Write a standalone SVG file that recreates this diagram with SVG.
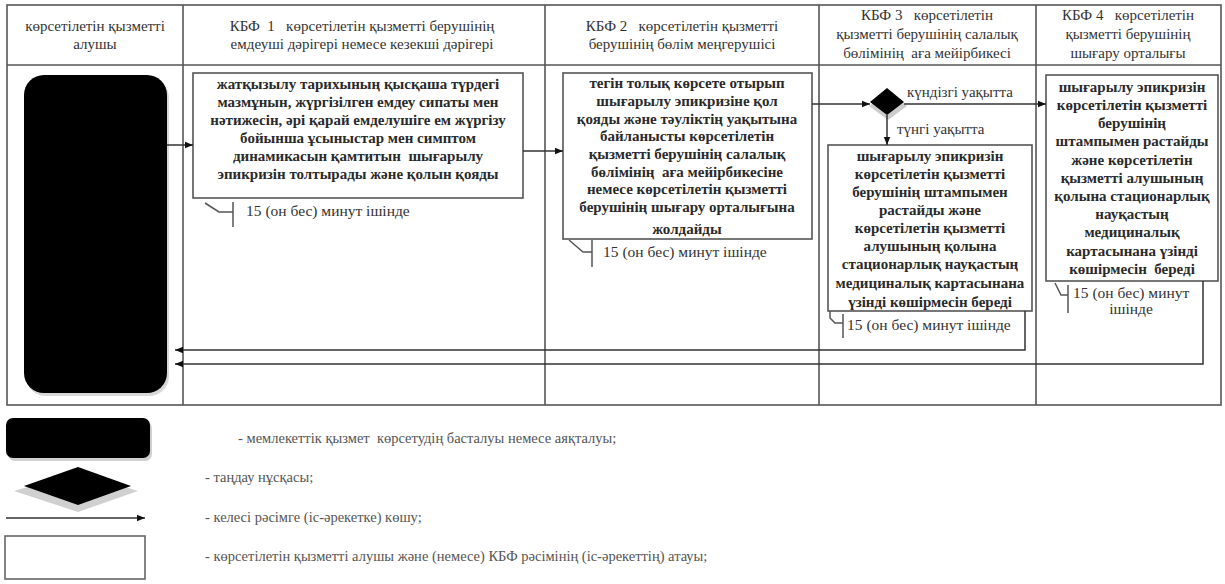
<svg xmlns="http://www.w3.org/2000/svg" width="1225" height="584" viewBox="0 0 1225 584" font-family="Liberation Serif, Times New Roman, serif">
<defs>
<marker id="ah" viewBox="0 0 10 10" refX="10" refY="5" markerWidth="8" markerHeight="8" markerUnits="userSpaceOnUse" orient="auto">
<path d="M0,1 L10,5 L0,9 Z" fill="#111"/>
</marker>
</defs>
<style>
.grid{stroke:#555;stroke-width:1.6;fill:none}
.hdr{font-size:15px;fill:#333;text-anchor:middle}
.bt{font-size:15px;font-weight:bold;fill:#2a2a2a;text-anchor:middle}
.box{fill:#fff;stroke:#555;stroke-width:1.6}
.ann{font-size:15.5px;fill:#333}
.annl{stroke:#555;stroke-width:1.5;fill:none}
.lbl{font-size:15px;fill:#333}
.con{stroke:#333;stroke-width:1.5;fill:none}
.leg{font-size:14.5px;fill:#555}
</style>

<g id="table">
<rect class="grid" x="7" y="5" width="1214" height="400"/>
<line class="grid" x1="7" y1="65" x2="1221" y2="65"/>
<line class="grid" x1="183" y1="5" x2="183" y2="405"/>
<line class="grid" x1="545" y1="5" x2="545" y2="405"/>
<line class="grid" x1="819" y1="5" x2="819" y2="405"/>
<line class="grid" x1="1036" y1="5" x2="1036" y2="405"/>
</g>

<g id="headers">
<text class="hdr" x="95" y="31">көрсетілетін қызметті</text>
<text class="hdr" x="95" y="49">алушы</text>
<text class="hdr" x="362" y="31" xml:space="preserve">КБФ  1   көрсетілетін қызметті берушінің</text>
<text class="hdr" x="362" y="49">емдеуші дәрігері немесе кезекші дәрігері</text>
<text class="hdr" x="682" y="31" xml:space="preserve">КБФ 2   көрсетілетін қызметті</text>
<text class="hdr" x="682" y="49">берушінің бөлім меңгерушісі</text>
<text class="hdr" x="927" y="20" xml:space="preserve">КБФ 3   көрсетілетін</text>
<text class="hdr" x="927" y="39">қызметті берушінің салалық</text>
<text class="hdr" x="927" y="58" xml:space="preserve">бөлімінің  аға мейірбикесі</text>
<text class="hdr" x="1128" y="20" xml:space="preserve">КБФ 4   көрсетілетін</text>
<text class="hdr" x="1128" y="39">қызметті берушінің</text>
<text class="hdr" x="1128" y="58">шығару орталығы</text>
</g>

<g id="start">
<rect x="26" y="78" width="143" height="318" rx="20" fill="#d8d8d8"/>
<rect x="24" y="75" width="143" height="318" rx="20" fill="#000"/>
</g>

<g id="box1">
<rect class="box" x="193" y="73" width="330" height="125"/>
<text class="bt" x="358" y="89">жатқызылу тарихының қысқаша түрдегі</text>
<text class="bt" x="358" y="107">мазмұнын, жүргізілген емдеу сипаты мен</text>
<text class="bt" x="358" y="125">нәтижесін, әрі қарай емделушіге ем жүргізу</text>
<text class="bt" x="358" y="143">бойынша ұсыныстар мен симптом</text>
<text class="bt" x="358" y="161" xml:space="preserve">динамикасын қамтитын  шығарылу</text>
<text class="bt" x="358" y="179">эпикризін толтырады және қолын қояды</text>
</g>

<g id="box2">
<rect class="box" x="563" y="73" width="249" height="166"/>
<text class="bt" x="687" y="88">тегін толық көрсете отырып</text>
<text class="bt" x="687" y="106">шығарылу эпикризіне қол</text>
<text class="bt" x="687" y="124">қояды және тәуліктің уақытына</text>
<text class="bt" x="687" y="141">байланысты көрсетілетін</text>
<text class="bt" x="687" y="159">қызметті берушінің салалық</text>
<text class="bt" x="687" y="177" xml:space="preserve">бөлімінің  аға мейірбикесіне</text>
<text class="bt" x="687" y="194">немесе көрсетілетін қызметті</text>
<text class="bt" x="687" y="212">берушінің шығару орталығына</text>
<text class="bt" x="687" y="234">жолдайды</text>
</g>

<g id="decision">
<polygon points="888,91 907,106 888,120 869,106" fill="#ccc"/>
<polygon points="887,88 904,102 887,115 870,102" fill="#000"/>
<text class="lbl" x="907" y="97">күндізгі уақытта</text>
<text class="lbl" x="897" y="134">түнгі уақытта</text>
</g>

<g id="box3">
<rect class="box" x="828" y="145" width="204" height="166"/>
<text class="bt" x="930" y="161">шығарылу эпикризін</text>
<text class="bt" x="930" y="179">көрсетілетін қызметті</text>
<text class="bt" x="930" y="197">берушінің штампымен</text>
<text class="bt" x="930" y="215">растайды және</text>
<text class="bt" x="930" y="233">көрсетілетін қызметті</text>
<text class="bt" x="930" y="251">алушының қолына</text>
<text class="bt" x="930" y="269">стационарлық науқастың</text>
<text class="bt" x="930" y="288">медициналық картасынана</text>
<text class="bt" x="930" y="307">үзінді көшірмесін береді</text>
</g>

<g id="box4">
<rect class="box" x="1046" y="75" width="172" height="206"/>
<text class="bt" x="1132" y="92">шығарылу эпикризін</text>
<text class="bt" x="1132" y="110">көрсетілетін қызметті</text>
<text class="bt" x="1132" y="128">берушінің</text>
<text class="bt" x="1132" y="146">штампымен растайды</text>
<text class="bt" x="1132" y="165">және көрсетілетін</text>
<text class="bt" x="1132" y="183">қызметті алушының</text>
<text class="bt" x="1132" y="201">қолына стационарлық</text>
<text class="bt" x="1132" y="219">науқастың</text>
<text class="bt" x="1132" y="237">медициналық</text>
<text class="bt" x="1132" y="256">картасынана үзінді</text>
<text class="bt" x="1132" y="274" xml:space="preserve">көшірмесін  береді</text>
</g>

<g id="annotations">
<path class="annl" d="M205,203 L219,212 L233,212 M233,202 L233,227"/>
<text class="ann" x="246" y="216">15 (он бес) минут ішінде</text>
<path class="annl" d="M569,240 L583,252 L592,252 M592,240 L592,267"/>
<text class="ann" x="603" y="257">15 (он бес) минут ішінде</text>
<path class="annl" d="M830,311 L830,318 L835,323 L843,323 M843,314 L843,338"/>
<text class="ann" x="847" y="330">15 (он бес) минут ішінде</text>
<path class="annl" d="M1055,283 L1061,295 L1068,295 M1068,285 L1068,313"/>
<text class="ann" x="1073" y="298">15 (он бес) минут</text>
<text class="ann" x="1131" y="314" text-anchor="middle">ішінде</text>
</g>

<g id="connectors">
<line class="con" x1="167" y1="145" x2="193" y2="145" marker-end="url(#ah)"/>
<line class="con" x1="523" y1="151" x2="563" y2="151" marker-end="url(#ah)"/>
<line class="con" x1="812" y1="104" x2="870" y2="104" marker-end="url(#ah)"/>
<line class="con" x1="904" y1="104" x2="1046" y2="104" marker-end="url(#ah)"/>
<line class="con" x1="887" y1="115" x2="887" y2="145" marker-end="url(#ah)"/>
<polyline class="con" points="1025,311 1025,350 175,350" marker-end="url(#ah)"/>
<polyline class="con" points="1203,281 1203,364 175,364" marker-end="url(#ah)"/>
</g>

<g id="legend">
<rect x="8" y="421" width="144" height="40" rx="7" fill="#d0d0d0"/>
<rect x="6" y="418" width="144" height="40" rx="7" fill="#000"/>
<polygon points="78,472 138,491 78,512 14,491" fill="#d0d0d0"/>
<polygon points="78,467 131,486 78,505 24,486" fill="#000"/>
<line class="con" x1="6" y1="518" x2="145" y2="518" marker-end="url(#ah)"/>
<rect x="5" y="536" width="140" height="43" fill="#fff" stroke="#666" stroke-width="1.6"/>
<text class="leg" x="238" y="443" xml:space="preserve">- мемлекеттік қызмет  көрсетудің басталуы немесе аяқталуы;</text>
<text class="leg" x="205" y="482">- таңдау нұсқасы;</text>
<text class="leg" x="205" y="522">- келесі рәсімге (іс-әрекетке) көшу;</text>
<text class="leg" x="205" y="561">- көрсетілетін қызметті алушы және (немесе) КБФ рәсімінің (іс-әрекеттің) атауы;</text>
</g>
</svg>
